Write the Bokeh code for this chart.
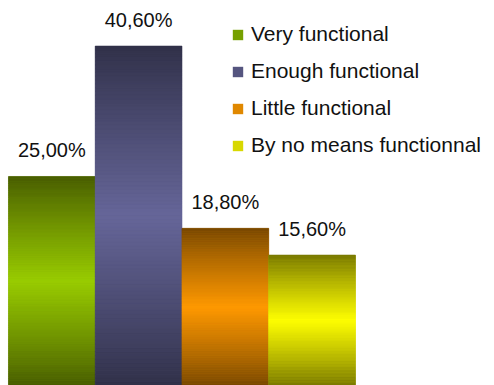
from bokeh.plotting import figure
from bokeh.models import Range1d, ColumnDataSource, Legend, LegendItem
from bokeh.core.properties import value
from bokeh.embed import file_html
from bokeh.resources import INLINE

categories = ["Very functional", "Enough functional", "Little functional", "By no means functionnal"]
values = [25.0, 40.6, 18.8, 15.6]
labels = ["25,00%", "40,60%", "18,80%", "15,60%"]
mid_colors = [(153, 204, 0), (102, 102, 153), (255, 153, 0), (255, 255, 0)]
end_colors = [(72, 92, 0), (48, 48, 72), (120, 72, 0), (120, 120, 0)]
legend_colors = ["#76a000", "#55557f", "#e08800", "#d8d800"]

FONT = "Liberation Sans"
N = 90

p = figure(width=494, height=385, output_backend="svg", toolbar_location=None,
           x_range=Range1d(-0.592, 5.103), y_range=Range1d(0, 46.05),
           min_border=0, min_border_left=0, min_border_right=0,
           min_border_top=0, min_border_bottom=0)
p.axis.visible = False
p.xgrid.visible = False
p.ygrid.visible = False
p.outline_line_color = None
p.background_fill_color = "white"
p.border_fill_color = "white"


def hexc(c):
    return "#%02x%02x%02x" % tuple(int(round(v)) for v in c)


items = []
for i, (cat, v) in enumerate(zip(categories, values)):
    base = p.quad(left=[i - 0.5], right=[i + 0.5], bottom=[0], top=[v],
                  fill_color=legend_colors[i], line_color=None)
    items.append(LegendItem(label=cat, renderers=[base]))
    lefts, rights, bottoms, tops, cols = [], [], [], [], []
    for k in range(N):
        f = (k + 0.5) / N
        t = 1 - abs(f - 0.5) * 2  # 1 at middle, 0 at ends
        t = t ** 0.9
        c = [end_colors[i][j] + (mid_colors[i][j] - end_colors[i][j]) * t for j in range(3)]
        lefts.append(i - 0.5)
        rights.append(i + 0.5)
        bottoms.append(v * k / N)
        tops.append(v * (k + 1) / N)
        cols.append(hexc(c))
    src = ColumnDataSource(dict(left=lefts, right=rights, bottom=bottoms, top=tops, color=cols))
    p.quad(left="left", right="right", bottom="bottom", top="top", source=src,
           fill_color="color", line_color="color", line_width=0.6)

lab_src = ColumnDataSource(dict(x=list(range(len(values))), y=values, t=labels))
p.text(x="x", y="y", text="t", source=lab_src, text_align="center",
       text_baseline="alphabetic", y_offset=-26, text_font=value(FONT),
       text_font_size="20px", text_color="#111111")

legend = Legend(items=items, location=(231, 228), orientation="vertical",
                label_text_font=FONT, label_text_font_size="21px",
                label_text_color="#111111", glyph_width=13, glyph_height=13,
                label_standoff=7, spacing=13, padding=0, margin=0,
                border_line_color=None, background_fill_alpha=0)
p.add_layout(legend)

open("out.html", "w").write(file_html(p, INLINE))
